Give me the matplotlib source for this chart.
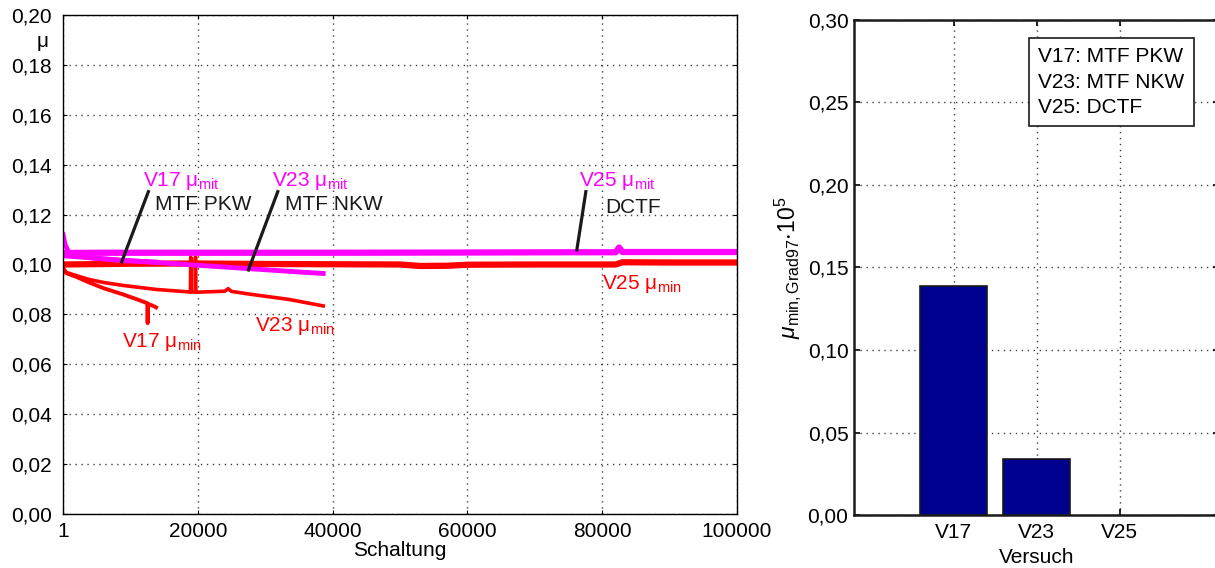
import numpy as np
import matplotlib
matplotlib.use('Agg')
import matplotlib.pyplot as plt
from matplotlib import ticker

plt.rcParams['font.family'] = ['Liberation Sans', 'DejaVu Sans']
plt.rcParams['mathtext.fontset'] = 'custom'
plt.rcParams['mathtext.rm'] = 'Liberation Sans'
plt.rcParams['mathtext.it'] = 'Liberation Sans:italic'
plt.rcParams['font.size'] = 15

# --- left chart: friction coefficient over switching cycles ---
v17_min_x = [1, 500, 2000, 3850, 6000, 8900, 11000, 12500, 12550, 12600, 13300, 13800]
v17_min_y = [0.0985, 0.0965, 0.0950, 0.0928, 0.0905, 0.0880, 0.0860, 0.0845, 0.0765, 0.0842, 0.0835, 0.0828]

v17_mit_x = [1, 300, 1000, 3000, 6000, 9000, 12000, 13800]
v17_mit_y = [0.1120, 0.1080, 0.1040, 0.1030, 0.1022, 0.1015, 0.1012, 0.1010]

v23_min_x = [1, 500, 2000, 3850, 6000, 8900, 13800, 18700, 18900, 18950, 19000, 19600, 19650,
             19700, 20000, 24000, 24500, 25000, 28000, 33500, 38600]
v23_min_y = [0.0985, 0.0968, 0.0955, 0.0940, 0.0928, 0.0916, 0.0900, 0.0890, 0.0890, 0.1030, 0.0890,
             0.0890, 0.1030, 0.0890, 0.0889, 0.0893, 0.0903, 0.0892, 0.0880, 0.0860, 0.0834]

v23_mit_x = [1, 5000, 10000, 15000, 20000, 25000, 30000, 35000, 38600]
v23_mit_y = [0.1035, 0.1025, 0.1015, 0.1006, 0.0997, 0.0988, 0.0979, 0.0970, 0.0964]

v25_min_x = [1, 10000, 20000, 30000, 40000, 50000, 53000, 57000, 60000, 70000, 82000, 83000, 90000, 100000]
v25_min_y = [0.1000, 0.1003, 0.1004, 0.1002, 0.1001, 0.1000, 0.0994, 0.0995, 0.0999, 0.1000, 0.1000,
             0.1009, 0.1008, 0.1008]

v25_mit_x = [1, 5000, 20000, 40000, 60000, 76000, 82000, 82500, 83000, 90000, 100000]
v25_mit_y = [0.1046, 0.1047, 0.1047, 0.1047, 0.1048, 0.1049, 0.1049, 0.1068, 0.1050, 0.1050, 0.1050]

x_ticks = [1, 20000, 40000, 60000, 80000, 100000]

# --- right chart: gradient of mu_min ---
versuche = ['V17', 'V23', 'V25']
gradient = [0.139, 0.0342, 0.0]

legend_text = 'V17: MTF PKW\nV23: MTF NKW\nV25: DCTF'

magenta = '#ff00ff'
red = '#ff0000'
bar_color = '#00008f'


def comma_fmt(v, pos):
    return f'{v:.2f}'.replace('.', ',')


fig = plt.figure(figsize=(12.15, 5.68), dpi=100)
ax = fig.add_axes([0.0519, 0.0951, 0.5547, 0.8785])
ax2 = fig.add_axes([0.7029, 0.0933, 0.3006, 0.8715])

grid_kw = dict(color='0.25', linestyle=(0, (1, 3.3)), linewidth=1.0)

# left chart
ax.plot(v17_min_x, v17_min_y, color=red, lw=2.8)
ax.plot(v23_min_x, v23_min_y, color=red, lw=2.6)
ax.plot(v25_min_x, v25_min_y, color=red, lw=4.5)
ax.plot(v17_mit_x, v17_mit_y, color=magenta, lw=3.5)
ax.plot(v23_mit_x, v23_mit_y, color=magenta, lw=3.5)
ax.plot(v25_mit_x, v25_mit_y, color=magenta, lw=4.5)

ax.set_xlim(1, 100000)
ax.set_ylim(0, 0.2)
ax.set_xticks(x_ticks)
ax.set_xticklabels([str(t) for t in x_ticks])
ax.set_yticks(np.arange(0, 0.201, 0.02))
ax.yaxis.set_major_formatter(ticker.FuncFormatter(comma_fmt))
ax.tick_params(direction='in', top=True, right=True, length=3, labelsize=15, pad=6)
ax.tick_params(axis='y', pad=8)
ax.grid(True, **grid_kw)
for s in ax.spines.values():
    s.set_linewidth(1.0)
ax.set_xlabel('Schaltung', fontsize=15)
ax.xaxis.set_label_coords(0.5, -0.054)
ax.text(-0.031, 0.946, 'μ', transform=ax.transAxes, ha='center', va='center', fontsize=15)

# leader lines
ax.plot([12660, 8710], [0.1292, 0.1011], color='#1a1a1a', lw=2.3)
ax.plot([31860, 27500], [0.1292, 0.0978], color='#1a1a1a', lw=2.3)
ax.plot([77570, 76230], [0.1292, 0.1058], color='#1a1a1a', lw=2.3)

ax.text(11870, 0.1315, r'V17 $\mathregular{μ_{mit}}$', color=magenta, va='baseline')
ax.text(31060, 0.1315, r'V23 $\mathregular{μ_{mit}}$', color=magenta, va='baseline')
ax.text(76530, 0.1315, r'V25 $\mathregular{μ_{mit}}$', color=magenta, va='baseline')
ax.text(13650, 0.1218, 'MTF PKW', color='#1a1a1a', va='baseline')
ax.text(32950, 0.1218, 'MTF NKW', color='#1a1a1a', va='baseline')
ax.text(80430, 0.1205, 'DCTF', color='#1a1a1a', va='baseline')
ax.text(79940, 0.0901, r'V25 $\mathregular{μ_{min}}$', color=red, va='baseline')
ax.text(28490, 0.0735, r'V23 $\mathregular{μ_{min}}$', color=red, va='baseline')
ax.text(8710, 0.0671, r'V17 $\mathregular{μ_{min}}$', color=red, va='baseline')

# right chart
pos = np.arange(1, len(versuche) + 1)
edge_w = [1.2 if g > 0 else 0 for g in gradient]
ax2.bar(pos, gradient, width=0.8, color=bar_color, edgecolor='#1a1a1a', linewidth=edge_w, zorder=3)
ax2.set_xlim(-0.2, 4.2)
ax2.set_ylim(0, 0.3)
ax2.set_xticks(pos)
ax2.set_xticklabels(versuche)
ax2.set_yticks(np.arange(0, 0.301, 0.05))
ax2.yaxis.set_major_formatter(ticker.FuncFormatter(comma_fmt))
ax2.tick_params(direction='in', top=True, right=True, length=4, width=1.2, labelsize=15, pad=6)
ax2.tick_params(axis='y', pad=4)
ax2.grid(True, **grid_kw)
ax2.set_axisbelow(True)
for s in ax2.spines.values():
    s.set_linewidth(1.8)
    s.set_color('#1a1a1a')
ax2.set_xlabel('Versuch', fontsize=15)
ax2.xaxis.set_label_coords(0.5, -0.067)
ax2.set_ylabel(r'$\mu_{\mathregular{min,Grad97}}\mathregular{\cdot10^5}$', fontsize=16.5)
ax2.yaxis.set_label_coords(-0.14, 0.5)
ax2.text(0.504, 0.945, legend_text, transform=ax2.transAxes, ha='left', va='top', fontsize=15,
         linespacing=1.42, zorder=5,
         bbox=dict(boxstyle='square,pad=0.45', facecolor='white', edgecolor='#1a1a1a', linewidth=1.2))

fig.savefig('out.png', dpi=100)
